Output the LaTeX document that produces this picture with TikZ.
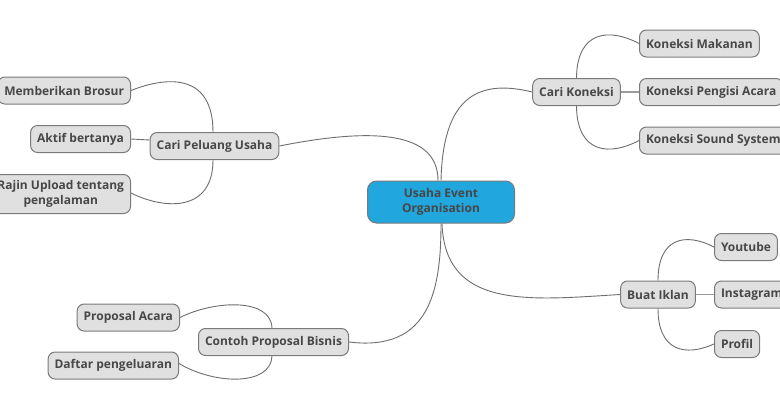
\documentclass[tikz,border=0pt]{standalone}
\usepackage{fontspec}
\setmainfont{Open Sans}
\usetikzlibrary{backgrounds}
\definecolor{boxc}{HTML}{E0E0E0}
\definecolor{bordc}{HTML}{7A7A7A}
\definecolor{txtc}{HTML}{474747}
\definecolor{rootc}{HTML}{21A6DD}
\definecolor{linec}{HTML}{6E6E6E}
\definecolor{linelt}{HTML}{9A9A9A}
\tikzset{
  box/.style={draw=bordc, fill=boxc, rounded corners=7pt, text=txtc,
    font=\fontsize{12}{15}\selectfont\bfseries, inner xsep=6.5pt, inner ysep=6pt,
    minimum height=27pt, align=center, line width=1pt},
  root/.style={box, fill=rootc, minimum width=147pt, minimum height=42pt, rounded corners=9pt},
  conn/.style={draw=linec, line width=0.9pt},
  straight/.style={draw=linelt, line width=1.8pt}
}
\begin{document}
\begin{tikzpicture}[x=1pt,y=-1pt]
\useasboundingbox (0,0) rectangle (780,410);
\node[root] (cen) at (441,202) {Usaha Event\\Organisation};
\node[box] (cpu) at (214.5,146) {Cari Peluang Usaha};
\node[box, anchor=east] (mb) at (131,90.5) {Memberikan Brosur};
\node[box, anchor=east] (ab) at (131,139) {Aktif bertanya};
\node[box, anchor=east] (ru) at (131,194) {Rajin Upload tentang\\pengalaman};
\node[box] (ck) at (576.5,92) {Cari Koneksi};
\node[box, anchor=west] (km) at (639,43.5) {Koneksi Makanan};
\node[box, anchor=west] (kp) at (639,92) {Koneksi Pengisi Acara};
\node[box, anchor=west] (ks) at (639,140.5) {Koneksi Sound System};
\node[box] (bi) at (658,294.5) {Buat Iklan};
\node[box, anchor=west] (yt) at (714,247) {Youtube};
\node[box, anchor=west] (ig) at (714,294.5) {Instagram};
\node[box, anchor=west] (pr) at (714,344) {Profil};
\node[box] (cp) at (273.5,342) {Contoh Proposal Bisnis};
\node[box, anchor=east] (pa) at (180,317.5) {Proposal Acara};
\node[box, anchor=east] (dp) at (179,365.5) {Daftar pengeluaran};
\begin{scope}[on background layer]
\fill[white] (0,0) rectangle (780,410);
% root connectors
\draw[conn] (cpu.east) .. controls (370,128) and (438,130) .. ([xshift=-3pt]cen.north);
\draw[conn] (cen.north) .. controls (443,100) and (475,78) .. (ck.west);
\draw[conn] (cp.east) .. controls (430,352) and (441,290) .. (cen.south);
\draw[conn] ([xshift=1pt]cen.south) .. controls (445,310) and (530,300) .. (bi.west);
% Cari Peluang Usaha
\draw[conn] ([xshift=-1.5pt]cpu.north) .. controls (213,75) and (170,75) .. (mb.east);
\draw[conn] ([xshift=-1.5pt]cpu.south) .. controls (213,212) and (165,210) .. ([yshift=1pt]ru.east);
\draw[conn] (ab.east) -- ([yshift=6pt]cpu.west);
% Cari Koneksi
\draw[conn] (ck.north) .. controls (577,30) and (610,28) .. (km.west);
\draw[conn] (ck.south) .. controls (577,154) and (610,156) .. (ks.west);
\draw[straight] (ck.east) -- (kp.west);
% Buat Iklan
\draw[conn] (bi.north) .. controls (658,238) and (685,232) .. (yt.west);
\draw[conn] (bi.south) .. controls (658,351) and (685,357) .. (pr.west);
\draw[straight] (bi.east) -- (ig.west);
% Contoh Proposal Bisnis
\draw[conn] ([xshift=-1.5pt]cp.north) .. controls (271,298) and (215,300) .. (pa.east);
\draw[conn] ([xshift=-1.5pt]cp.south) .. controls (271,386) and (215,385) .. ([yshift=2pt]dp.east);
\end{scope}
\end{tikzpicture}
\end{document}
